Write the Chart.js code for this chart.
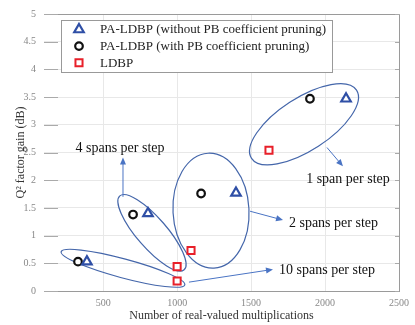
<!DOCTYPE html>
<html>
<head>
<meta charset="utf-8">
<script src="https://cdn.jsdelivr.net/npm/chart.js@4.4.1/dist/chart.umd.min.js"></script>
<style>
html,body{margin:0;padding:0;background:#fff;}
#wrap{width:415px;height:325px;position:relative;}
</style>
</head>
<body>
<div id="wrap"><canvas id="c" width="415" height="325"></canvas></div>
<script>
// ---- data ----
const seriesLabels = ['PA-LDBP (without PB coefficient pruning)', 'PA-LDBP (with PB coefficient pruning)', 'LDBP'];
const triMult  = [390, 803, 1398, 2142];
const triGain  = [0.53, 1.40, 1.77, 3.47];
const circMult = [330, 702, 1162, 1898];
const circGain = [0.53, 1.38, 1.76, 3.47];
const ldbpMult = [1000, 1000, 1094, 1621];
const ldbpGain = [0.18, 0.44, 0.73, 2.54];
const xTickValues = [500, 1000, 1500, 2000, 2500];
const groupLabels = ['10 spans per step', '4 spans per step', '2 spans per step', '1 span per step'];
const xTitle = 'Number of real-valued multiplications';
const yTitle = 'Q² factor gain (dB)';

// ---- annotation geometry (data-space anchors, pixel radii) ----
const ellipses = [
  {cx: 634,  cy: 0.41, rx: 64, ry: 9.5, rot: 15},
  {cx: 830,  cy: 1.05, rx: 49, ry: 15,  rot: 49},
  {cx: 1229, cy: 1.45, rx: 38, ry: 57.5, rot: -3},
  {cx: 1858, cy: 3.01, rx: 62.6, ry: 26.3, rot: -33}
];
const arrows = [
  {x1: 1080, y1: 0.16, x2: 1648, y2: 0.39, lx: 1689, ly: 0.37, align: 'left'},
  {x1: 634,  y1: 1.70, x2: 634,  y2: 2.41, lx: 614,  ly: 2.57, align: 'center'},
  {x1: 1493, y1: 1.44, x2: 1716, y2: 1.28, lx: 1756, ly: 1.22, align: 'left'},
  {x1: 2013, y1: 2.59, x2: 2121, y2: 2.25, lx: 2155, ly: 2.02, align: 'center'}
];

const toPts = (xs, ys) => xs.map((x, i) => ({x: x, y: ys[i]}));
const serif = 'Liberation Serif, Times New Roman, serif';

const overlay = {
  id: 'overlay',
  beforeDatasetsDraw(chart) {
    const ctx = chart.ctx, xs = chart.scales.x, ys = chart.scales.y;
    ctx.save();
    ctx.strokeStyle = '#4466aa';
    ctx.lineWidth = 1.2;
    ellipses.forEach(e => {
      ctx.beginPath();
      ctx.ellipse(xs.getPixelForValue(e.cx), ys.getPixelForValue(e.cy), e.rx, e.ry, e.rot * Math.PI / 180, 0, 2 * Math.PI);
      ctx.stroke();
    });
    arrows.forEach((a, i) => {
      const x1 = xs.getPixelForValue(a.x1), y1 = ys.getPixelForValue(a.y1);
      const x2 = xs.getPixelForValue(a.x2), y2 = ys.getPixelForValue(a.y2);
      const ang = Math.atan2(y2 - y1, x2 - x1);
      ctx.strokeStyle = '#4a74c4'; ctx.fillStyle = '#4a74c4'; ctx.lineWidth = 1;
      ctx.beginPath(); ctx.moveTo(x1, y1);
      ctx.lineTo(x2 - 5 * Math.cos(ang), y2 - 5 * Math.sin(ang)); ctx.stroke();
      ctx.beginPath();
      ctx.moveTo(x2, y2);
      ctx.lineTo(x2 - 7 * Math.cos(ang) + 3 * Math.sin(ang), y2 - 7 * Math.sin(ang) - 3 * Math.cos(ang));
      ctx.lineTo(x2 - 7 * Math.cos(ang) - 3 * Math.sin(ang), y2 - 7 * Math.sin(ang) + 3 * Math.cos(ang));
      ctx.closePath(); ctx.fill();
      ctx.fillStyle = '#111';
      ctx.font = '14px ' + serif;
      ctx.textAlign = a.align; ctx.textBaseline = 'middle';
      ctx.fillText(groupLabels[i], xs.getPixelForValue(a.lx), ys.getPixelForValue(a.ly));
    });
    ctx.restore();
  },
  afterDraw(chart) {
    const ctx = chart.ctx, ca = chart.chartArea, ys = chart.scales.y;
    ctx.save();
    // frame: top & right
    ctx.strokeStyle = '#9a9a9a'; ctx.lineWidth = 1;
    ctx.beginPath();
    ctx.moveTo(ca.left, ca.top + 0.5); ctx.lineTo(ca.right + 0.5, ca.top + 0.5); ctx.lineTo(ca.right + 0.5, ca.bottom);
    ctx.stroke();
    // tick marks
    ctx.strokeStyle = '#aaaaaa';
    ys.ticks.forEach(t => {
      const y = Math.round(ys.getPixelForValue(t.value)) + 0.5;
      ctx.beginPath(); ctx.moveTo(ca.left, y); ctx.lineTo(ca.left + 14, y); ctx.stroke();
      ctx.beginPath(); ctx.moveTo(ca.right - 4, y); ctx.lineTo(ca.right, y); ctx.stroke();
    });
    // legend
    const bx = ca.left + 17, by = ca.top + 6, bw = 271, bh = 52;
    ctx.fillStyle = '#fff';
    ctx.fillRect(bx, by, bw, bh);
    ctx.strokeStyle = '#999'; ctx.lineWidth = 1;
    ctx.strokeRect(bx + 0.5, by + 0.5, bw, bh);
    chart.data.datasets.forEach((ds, i) => {
      const cy = by + 9.5 + i * 16.6;
      ctx.strokeStyle = ds.borderColor; ctx.fillStyle = ds.backgroundColor; ctx.lineWidth = ds.borderWidth;
      Chart.helpers.drawPoint(ctx, {pointStyle: ds.pointStyle, radius: ds.pointRadius, rotation: 0, borderWidth: ds.borderWidth}, bx + 18, cy);
      ctx.fillStyle = '#222';
      ctx.font = '13px ' + serif;
      ctx.textAlign = 'left'; ctx.textBaseline = 'middle';
      ctx.fillText(ds.label, bx + 39, cy + 0.5);
    });
    ctx.restore();
  }
};

new Chart(document.getElementById('c'), {
  type: 'scatter',
  data: {
    datasets: [
      {label: seriesLabels[0], data: toPts(triMult, triGain), pointStyle: 'triangle', pointRadius: 5.5, borderWidth: 2.2, borderColor: '#2f4fa6', backgroundColor: '#ffffff'},
      {label: seriesLabels[1], data: toPts(circMult, circGain), pointStyle: 'circle', pointRadius: 3.8, borderWidth: 2.2, borderColor: '#111111', backgroundColor: '#ffffff'},
      {label: seriesLabels[2], data: toPts(ldbpMult, ldbpGain), pointStyle: 'rect', pointRadius: 5, borderWidth: 2, borderColor: '#e8202a', backgroundColor: '#ffffff'}
    ]
  },
  options: {
    responsive: false,
    animation: false,
    events: [],
    layout: {padding: {top: 9, right: 16, left: 0, bottom: 0}},
    plugins: {legend: {display: false}, tooltip: {enabled: false}},
    scales: {
      x: {
        type: 'linear', min: 100, max: 2500,
        afterBuildTicks(s) { s.ticks = xTickValues.map(v => ({value: v})); },
        afterFit(s) { s.height = 34; },
        ticks: {color: '#888', font: {family: serif, size: 10}, padding: 6, maxRotation: 0, callback: v => String(v)},
        grid: {color: '#e8e8e8', drawTicks: false},
        border: {display: true, color: '#9a9a9a'},
        title: {display: true, text: xTitle, color: '#333', font: {family: serif, size: 12}, padding: {top: 0, bottom: 2}}
      },
      y: {
        min: 0, max: 5,
        afterFit(s) { s.width = 44; },
        ticks: {stepSize: 0.5, color: '#888', font: {family: serif, size: 10}, padding: 8, callback: v => String(v)},
        grid: {color: '#e8e8e8', drawTicks: false},
        border: {display: false},
        title: {display: true, text: yTitle, color: '#333', font: {family: serif, size: 12}, padding: {top: 14, bottom: 0}}
      }
    }
  },
  plugins: [overlay]
});
</script>
</body>
</html>
